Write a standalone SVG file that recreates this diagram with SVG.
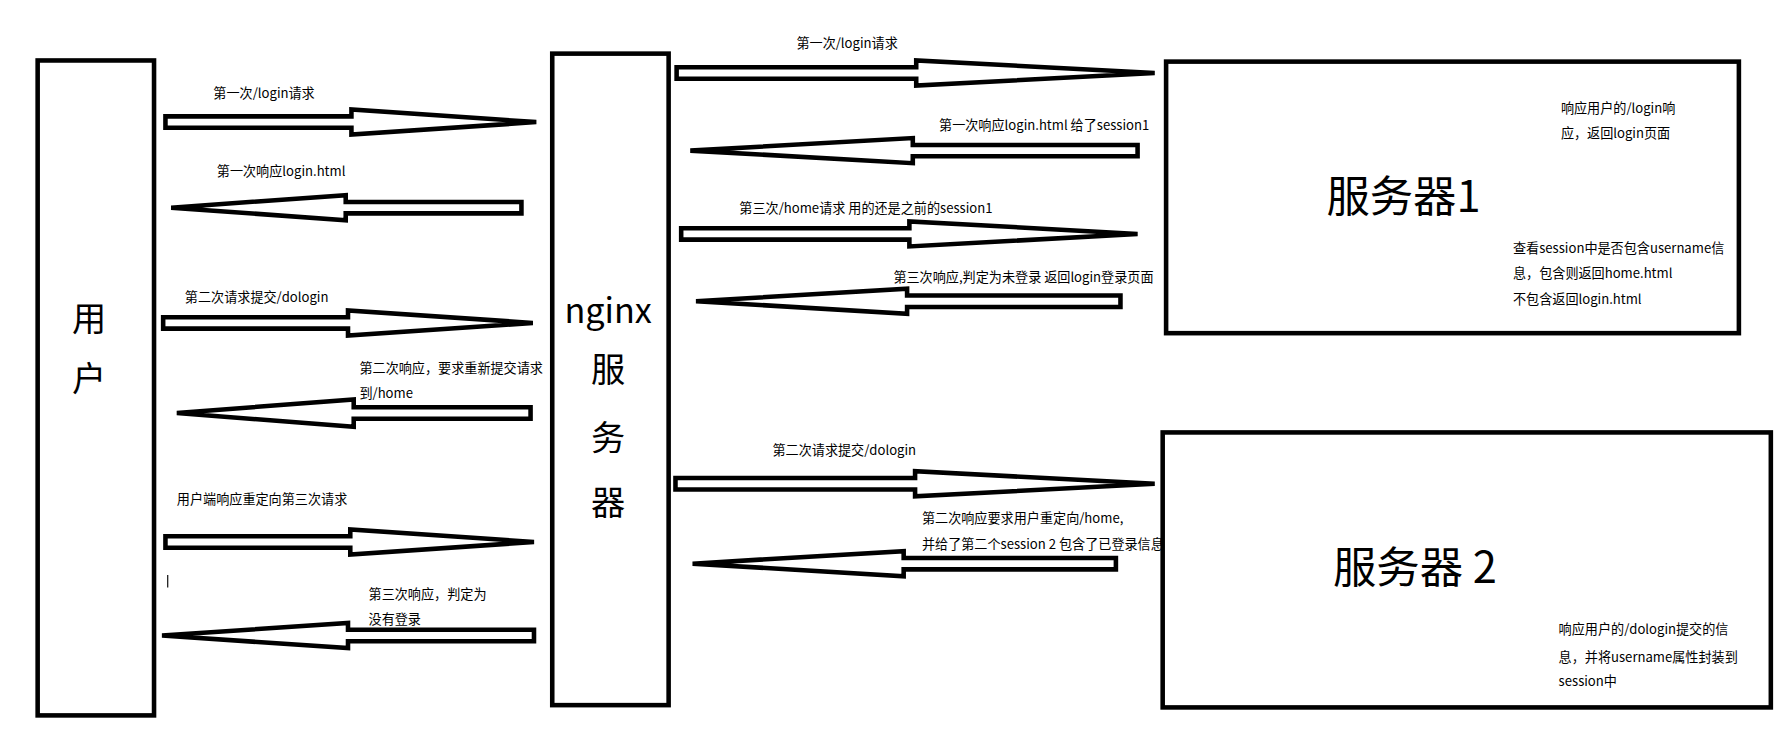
<svg xmlns="http://www.w3.org/2000/svg" width="1789" height="732" viewBox="0 0 1789 732">
<style>
.b{fill:#fff;stroke:#000;stroke-width:4}
.a{fill:#fff;stroke:#000;stroke-width:4;stroke-linejoin:miter}
text{font-family:"Noto Sans CJK SC","Liberation Sans",sans-serif;fill:#000}
.s{font-size:11.5px}
.m{font-size:30px;text-anchor:middle}
.l{font-size:38px;text-anchor:middle}
</style>
<rect width="1789" height="732" fill="#fff"/>
<g transform="scale(1.141)">
<g id="connectors">
<path class="a" d="M145 102H308V96L470 107L308 118V112H145Z"/>
<path class="a" d="M457 177H303V171L150 182L303 193V187H457Z"/>
<path class="a" d="M143 278H305V272L467 283L305 294V288H143Z"/>
<path class="a" d="M465 357H310V350L155 362L310 374V367H465Z"/>
<path class="a" d="M145 470H307V464L468 475L307 486V480H145Z"/>
<path class="a" d="M468 552H305V546L142 557L305 568V562H468Z"/>
<path class="a" d="M593 59H803V53L1012 64L803 75V69H593Z"/>
<path class="a" d="M997 127H800V121L605 132L800 143V137H997Z"/>
<path class="a" d="M597 200H797V194L997 205L797 216V210H597Z"/>
<path class="a" d="M982 259H795V253L610 264L795 275V269H982Z"/>
<path class="a" d="M592 419H802V413L1012 424L802 435V429H592Z"/>
<path class="a" d="M978 489H792V483L607 494L792 505V499H978Z"/>
<line x1="147" y1="504" x2="147" y2="515" stroke="#000" stroke-width="1"/>
<text class="s" x="187" y="86">第一次/login请求</text>
<text class="s" x="190" y="154">第一次响应login.html</text>
<text class="s" x="162" y="265">第二次请求提交/dologin</text>
<text class="s" x="315" y="327">第二次响应，要求重新提交请求</text>
<text class="s" x="315" y="349">到/home</text>
<text class="s" x="155" y="442">用户端响应重定向第三次请求</text>
<text class="s" x="323" y="525">第三次响应，判定为</text>
<text class="s" x="323" y="547">没有登录</text>
<text class="s" x="698" y="42">第一次/login请求</text>
<text class="s" x="823" y="114">第一次响应login.html  给了session1</text>
<text class="s" x="648" y="187">第三次/home请求  用的还是之前的session1</text>
<text class="s" x="783" y="247">第三次响应,判定为未登录 返回login登录页面</text>
<text class="s" x="677" y="399">第二次请求提交/dologin</text>
<text class="s" x="808" y="458">第二次响应要求用户重定向/home,</text>
<text class="s" x="808" y="481">并给了第二个session 2 包含了已登录信息</text>
</g>
<g id="user">
<rect class="b" x="33" y="53" width="102" height="574"/>
<text class="m" x="78" y="290">用</text>
<text class="m" x="78" y="343">户</text>
</g>
<g id="nginx">
<rect class="b" x="484" y="47" width="102" height="571"/>
<text class="m" x="533" y="283">nginx</text>
<text class="m" x="533" y="335">服</text>
<text class="m" x="533" y="394">务</text>
<text class="m" x="533" y="451">器</text>
</g>
<g id="server1">
<rect class="b" x="1022" y="54" width="502" height="238"/>
<text class="l" x="1230" y="186">服务器1</text>
<text class="s" x="1368" y="99">响应用户的/login响</text>
<text class="s" x="1368" y="121">应，返回login页面</text>
<text class="s" x="1326" y="222">查看session中是否包含username信</text>
<text class="s" x="1326" y="244">息，包含则返回home.html</text>
<text class="s" x="1326" y="266">不包含返回login.html</text>
</g>
<g id="server2">
<rect class="b" x="1019" y="379" width="533" height="241"/>
<text class="l" x="1240" y="511">服务器 2</text>
<text class="s" x="1366" y="556">响应用户的/dologin提交的信</text>
<text class="s" x="1366" y="580">息，并将username属性封装到</text>
<text class="s" x="1366" y="601">session中</text>
</g>
</g>
</svg>
